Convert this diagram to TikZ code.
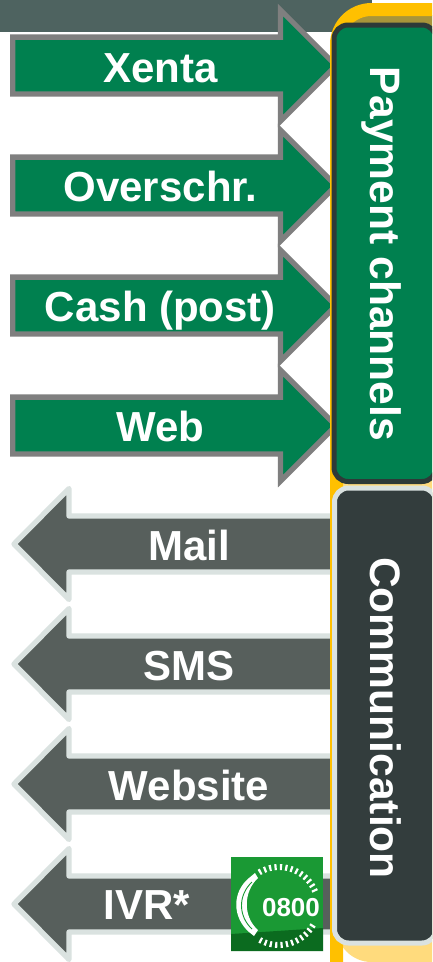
\documentclass[tikz,border=0pt]{standalone}
\usepackage{fontspec}
\setmainfont{Liberation Sans}
\usetikzlibrary{positioning}
\definecolor{bandgrey}{RGB}{78,99,96}
\definecolor{payyellow}{RGB}{255,192,0}
\definecolor{paylight}{RGB}{255,219,125}
\definecolor{payolive}{RGB}{168,149,58}
\definecolor{paygreen}{RGB}{0,128,79}
\definecolor{payedge}{RGB}{45,58,56}
\definecolor{commdark}{RGB}{51,61,61}
\definecolor{commedge}{RGB}{218,226,224}
\definecolor{arrowdark}{RGB}{87,95,92}
\definecolor{arrowedge}{RGB}{127,127,127}
\definecolor{logogreen}{RGB}{26,153,52}
\definecolor{logodark}{RGB}{11,107,31}
\tikzset{
  payarrow/.style={fill=paygreen,draw=arrowedge,line width=5.3pt,miter limit=10},
  commarrow/.style={fill=arrowdark,draw=commedge,line width=5.3pt,line join=round},
  arrowtext/.style={anchor=base,inner sep=0pt,text=white,font=\fontsize{42}{42}\selectfont\bfseries},
  sidetext/.style={anchor=base,inner sep=0pt,text=white,rotate=-90,font=\fontsize{42.6}{42.6}\selectfont\bfseries},
  paybox/.style={fill=paygreen,draw=payedge,line width=5pt,rounded corners=14pt},
  commbox/.style={fill=commdark,draw=commedge,line width=5pt,rounded corners=14pt}
}
\begin{document}
\begin{tikzpicture}[x=1pt,y=1pt]
  \useasboundingbox (0,0) rectangle (432,-962);
  \clip (0,0) rectangle (432,-962);
  \fill [white] (0,0) rectangle (432,-962);
  \fill [bandgrey] (0,0) rectangle (372,-32);

  % arrows
  \filldraw [payarrow] (12.7,-37.1) -- (280.5,-37.1) -- (280.5,-10) -- (336,-65.5) -- (280.5,-121) -- (280.5,-93.9) -- (12.7,-93.9) -- cycle;
  \filldraw [payarrow] (12.7,-157.1) -- (280.5,-157.1) -- (280.5,-130) -- (336,-185.5) -- (280.5,-241) -- (280.5,-213.9) -- (12.7,-213.9) -- cycle;
  \filldraw [payarrow] (12.7,-277.1) -- (280.5,-277.1) -- (280.5,-250) -- (336,-305.5) -- (280.5,-361) -- (280.5,-333.9) -- (12.7,-333.9) -- cycle;
  \filldraw [payarrow] (12.7,-397.1) -- (280.5,-397.1) -- (280.5,-370) -- (336,-425.5) -- (280.5,-481) -- (280.5,-453.9) -- (12.7,-453.9) -- cycle;

  \filldraw [commarrow] (336,-516) -- (69,-516) -- (69,-488.5) -- (14,-544) -- (69,-599.5) -- (69,-572) -- (336,-572) -- cycle;
  \filldraw [commarrow] (336,-636) -- (69,-636) -- (69,-608.5) -- (14,-664) -- (69,-719.5) -- (69,-692) -- (336,-692) -- cycle;
  \filldraw [commarrow] (336,-756) -- (69,-756) -- (69,-728.5) -- (14,-784) -- (69,-839.5) -- (69,-812) -- (336,-812) -- cycle;
  \filldraw [commarrow] (336,-876) -- (69,-876) -- (69,-848.5) -- (14,-904) -- (69,-959.5) -- (69,-932) -- (336,-932) -- cycle;

  \node [arrowtext] (xenta) at (160.5,-82) {Xenta};
  \node [arrowtext] (overschr) at (160.5,-201) {Overschr.};
  \node [arrowtext] (cash) at (160.5,-321) {Cash (post)};
  \node [arrowtext] (web) at (160.5,-441) {Web};
  \node [arrowtext] (mail) at (189,-560.5) {Mail};
  \node [arrowtext] (sms) at (189,-680.5) {SMS};
  \node [arrowtext] (website) at (189,-800.5) {Website};
  \node [arrowtext] (ivr) at (147,-919.5) {IVR*};

  % yellow panel
  \fill [paylight,rounded corners=35pt] (336.5,-962) -- (336.5,-9.5) -- (470,-9.5) -- (470,-962) -- cycle;
  \fill [payolive,rounded corners=28pt] (343,-60) -- (343,-15) -- (470,-15) -- (470,-60) -- cycle;
  \draw [payyellow,line width=13pt,rounded corners=35pt] (336.5,-962) -- (336.5,-9.5) -- (470,-9.5);

  % side boxes
  \filldraw [paybox] (334,-25) rectangle (436,-481.5);
  \filldraw [commbox] (334.5,-488) rectangle (436,-943);
  \node [sidetext] (payment) at (370,-254) {Payment channels};
  \node [sidetext] (communication) at (370,-718) {Communication};

  % 0800 logo
  \fill [logogreen] (231,-857) rectangle (323,-951);
  \fill [logodark] (231,-934) -- (323,-928) -- (323,-951) -- (231,-951) -- cycle;
  \draw [white,line width=6pt,dash pattern=on 2.2pt off 3.2pt] (279,-906) ++(22:39) arc[start angle=22,end angle=125,radius=39];
  \draw [white,line width=6pt,dash pattern=on 2.2pt off 3.2pt] (279,-906) ++(-29:39) arc[start angle=-29,end angle=-124,radius=39];
  \fill [white] (249,-878) -- (255,-873) -- (258,-878) .. controls (243,-892) and (243,-917) .. (258,-930) -- (254,-936) -- (249,-932) .. controls (232,-917) and (232,-892) .. cycle;
  \draw [logogreen,line width=0.9pt] (252,-882) .. controls (238,-895) and (238,-916) .. (252,-929);
  \node [anchor=base,inner sep=0pt,text=white,font=\fontsize{26}{26}\selectfont\bfseries] (logotext) at (291,-916) {0800};
\end{tikzpicture}
\end{document}
